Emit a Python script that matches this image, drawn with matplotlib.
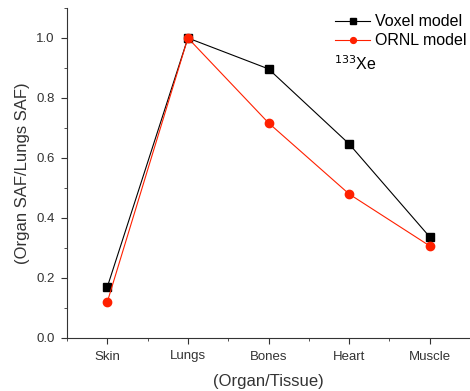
import numpy as np
import matplotlib
matplotlib.use("Agg")
import matplotlib.pyplot as plt
from matplotlib.ticker import MultipleLocator

plt.rcParams['font.family'] = ['Liberation Sans', 'DejaVu Sans']

organs = ["Skin", "Lungs", "Bones", "Heart", "Muscle"]
voxel = [0.17, 1.0, 0.897, 0.647, 0.337]
ornl = [0.12, 1.0, 0.717, 0.48, 0.307]

x = np.arange(1, len(organs) + 1)

fig = plt.figure(figsize=(4.7, 3.91), dpi=100)
ax = fig.add_axes([67 / 470, 1 - 338 / 391, (470 - 67) / 470, (338 - 8) / 391])

ax.plot(x, voxel, color="black", lw=0.8, marker="s", ms=6, label="Voxel model")
ax.plot(x, ornl, color="#ff2000", lw=0.8, marker="o", ms=6, label="ORNL model")

ax.set_xlim(0.5, 5.5)
ax.set_ylim(0, 1.1)
ax.set_xticks(x)
ax.set_xticklabels(organs)
ax.xaxis.set_minor_locator(MultipleLocator(0.5))
ax.yaxis.set_major_locator(MultipleLocator(0.2))
ax.yaxis.set_minor_locator(MultipleLocator(0.1))
ax.yaxis.set_major_formatter(matplotlib.ticker.FormatStrFormatter("%.1f"))

for s in ["top", "right"]:
    ax.spines[s].set_visible(False)
for s in ["left", "bottom"]:
    ax.spines[s].set_color("#333333")
ax.tick_params(which="major", direction="out", length=4, labelsize=9.5,
               colors="#333333", pad=5)
ax.tick_params(which="minor", direction="out", length=2.5, colors="#333333")

ax.set_xlabel("(Organ/Tissue)", fontsize=12, color="#333333", labelpad=8)
ax.set_ylabel("(Organ SAF/Lungs SAF)", fontsize=12, color="#333333", labelpad=4)

leg = ax.legend(loc="upper left", bbox_to_anchor=(0.63, 1.025), frameon=False,
                fontsize=11.5, handlelength=2.2, handletextpad=0.3, labelspacing=0.25,
                markerscale=0.7)
fig.text(334 / 470, 1 - 64 / 391, r"$^{133}$Xe", fontsize=11.5, va="center", ha="left")

fig.savefig("out.png", dpi=100)
